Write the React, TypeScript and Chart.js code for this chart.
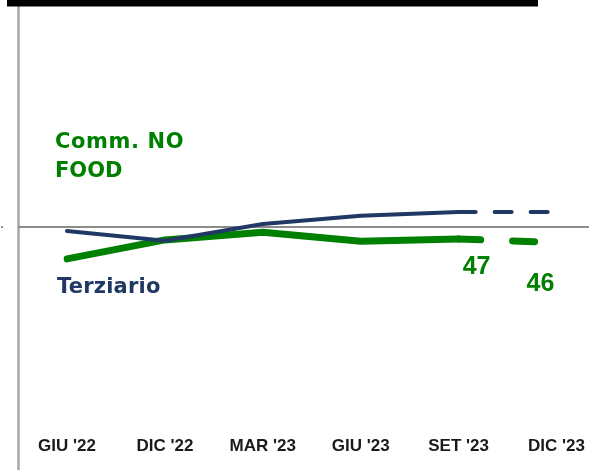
import React, { useEffect, useRef } from "react";
import { Chart, registerables } from "chart.js";

Chart.register(...registerables);

const categories = ["GIU '22", "DIC '22", "MAR '23", "GIU '23", "SET '23", "DIC '23"];
const terziario = [49.1, 46.8, 50.7, 52.6, 53.5, 53.5];
const commNoFood = [42.6, 47.0, 48.8, 46.7, 47.2, 46.4];
const commLabels = [null, null, null, null, "47", "46"];
const thresholdValue = 50;
const forecastStart = 4;
const yMin = 2.2;
const yMax = 100;

const NAVY = "#1F3864";
const GREEN = "#008000";

export default function App() {
  const ref = useRef<HTMLCanvasElement | null>(null);

  useEffect(() => {
    if (!ref.current) return;

    const decor = {
      id: "decor",
      beforeDatasetsDraw(chart: any) {
        const ctx = chart.ctx;
        const y = chart.scales.y.getPixelForValue(thresholdValue);
        ctx.save();
        ctx.strokeStyle = "#A6A6A6";
        ctx.lineWidth = 2.5;
        ctx.beginPath();
        ctx.moveTo(18.5, 6);
        ctx.lineTo(18.5, 470);
        ctx.stroke();
        ctx.strokeStyle = "#8C8C8C";
        ctx.lineWidth = 2;
        ctx.beginPath();
        ctx.moveTo(18, y);
        ctx.lineTo(589, y);
        ctx.stroke();
        ctx.fillStyle = "#8C8C8C";
        ctx.fillRect(1, y - 1, 2, 2);
        ctx.restore();
      },
      afterDatasetsDraw(chart: any) {
        const ctx = chart.ctx;
        ctx.save();
        ctx.fillStyle = "#000";
        ctx.fillRect(7, 0, 531, 6.5);

        ctx.textAlign = "left";
        ctx.textBaseline = "alphabetic";
        ctx.font = "bold 21px 'DejaVu Sans'";
        ctx.fillStyle = GREEN;
        (ctx as any).letterSpacing = "0.6px";
        ctx.fillText("Comm. NO", 55, 148);
        (ctx as any).letterSpacing = "0px";
        ctx.fillText("FOOD", 55, 177);
        ctx.fillStyle = NAVY;
        (ctx as any).letterSpacing = "0.2px";
        ctx.fillText("Terziario", 57, 293);
        (ctx as any).letterSpacing = "0px";

        const meta = chart.getDatasetMeta(1);
        ctx.font = "bold 25px 'Liberation Sans'";
        ctx.fillStyle = GREEN;
        ctx.textAlign = "center";
        ctx.textBaseline = "middle";
        const offs = [
          [0, 0], [0, 0], [0, 0], [0, 0], [18, 28], [-16, 42],
        ];
        commLabels.forEach((t, i) => {
          if (!t) return;
          const p = meta.data[i];
          ctx.fillText(t, p.x + offs[i][0], p.y + offs[i][1]);
        });
        ctx.restore();
      },
    };

    const chart = new Chart(ref.current, {
      type: "line",
      data: {
        labels: categories,
        datasets: [
          {
            label: "Terziario",
            data: terziario,
            borderColor: NAVY,
            borderWidth: 4,
            borderCapStyle: "round",
            borderJoinStyle: "round",
            pointRadius: 0,
            tension: 0,
            segment: {
              borderDash: (c: any) => (c.p0DataIndex >= forecastStart ? [17, 19] : undefined),
            },
          },
          {
            label: "Comm. NO FOOD",
            data: commNoFood,
            borderColor: GREEN,
            borderWidth: 7,
            borderCapStyle: "round",
            borderJoinStyle: "round",
            pointRadius: 0,
            tension: 0,
            segment: {
              borderDash: (c: any) => (c.p0DataIndex >= forecastStart ? [22, 32] : undefined),
            },
          },
        ],
      },
      options: {
        animation: false,
        responsive: false,
        devicePixelRatio: 1,
        layout: { padding: { left: 67, right: 32, top: 12, bottom: 9 } },
        plugins: { legend: { display: false }, tooltip: { enabled: false } },
        scales: {
          x: {
            offset: false,
            grid: { display: false, drawTicks: false },
            border: { display: false },
            ticks: {
              padding: 4,
              color: "#1A1A1A",
              font: { family: "'Liberation Sans'", weight: "bold", size: 17 },
              maxRotation: 0,
              autoSkip: false,
            },
          },
          y: {
            display: false,
            min: yMin,
            max: yMax,
          },
        },
      },
      plugins: [decor],
    } as any);

    return () => chart.destroy();
  }, []);

  return (
    <div style={{ position: "fixed", left: 0, top: 0, width: 589, height: 470, background: "#fff" }}>
      <canvas ref={ref} width={589} height={470} />
    </div>
  );
}
